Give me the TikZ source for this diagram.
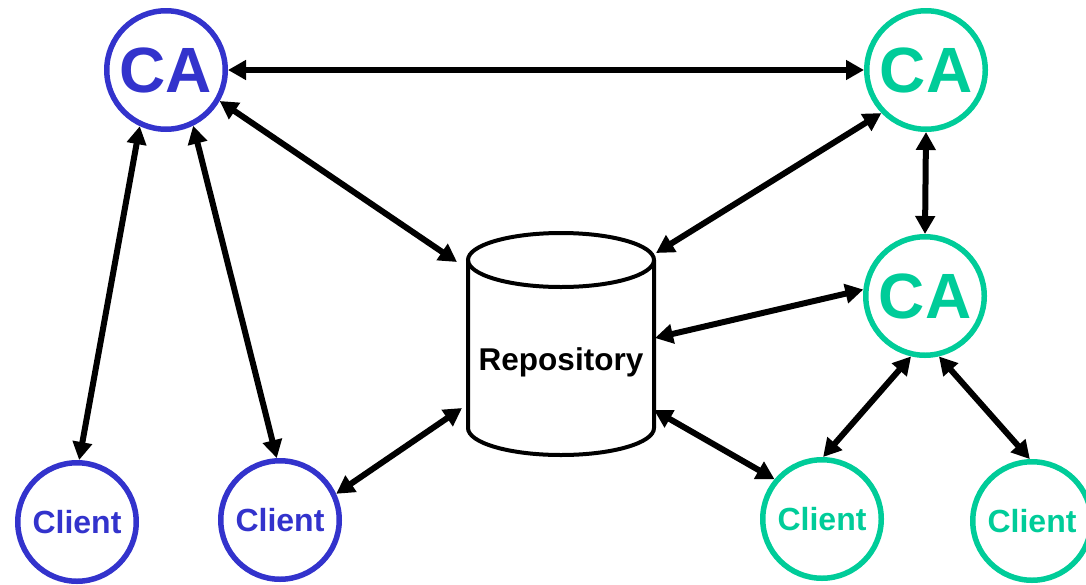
\documentclass[tikz,border=0pt]{standalone}
\usepackage{fontspec}
\setmainfont{Liberation Sans}
\usetikzlibrary{arrows.meta}
\definecolor{caBlue}{HTML}{3333CC}
\definecolor{caGreen}{HTML}{00CC99}

\begin{document}
\begin{tikzpicture}[x=1pt,y=-1pt,
  party/.style={circle, draw, line width=5.5pt, minimum size=118.5pt, inner sep=0pt},
  ca/.style={party, font=\fontsize{64}{64}\selectfont\bfseries},
  client/.style={party, font=\fontsize{32}{32}\selectfont\bfseries},
  blueside/.style={draw=caBlue, text=caBlue},
  greenside/.style={draw=caGreen, text=caGreen},
  link/.style={line width=6pt, {Triangle[length=18pt,width=19pt]}-{Triangle[length=18pt,width=19pt]}},
]
\useasboundingbox (0,0) rectangle (1086,584);

% certificate authorities
\node[ca, blueside]  (caL)  at (166,70)  {CA};
\node[ca, greenside] (caR)  at (926,70)  {CA};
\node[ca, greenside] (caM)  at (925,296) {CA};

% clients
\node[client, blueside]  (cl1) at (77,522)   {Client};
\node[client, blueside]  (cl2) at (280,520)  {Client};
\node[client, greenside] (cl3) at (822,519)  {Client};
\node[client, greenside] (cl4) at (1032,521) {Client};

% repository cylinder
\draw[line width=4pt, fill=white]
  (468,260) -- (468,428) arc[start angle=180, end angle=0, x radius=93, y radius=27]
  -- (654,260);
\draw[line width=4pt] (561,260) ellipse[x radius=93, y radius=27];
\node[font=\fontsize{31.5}{31.5}\selectfont\bfseries, anchor=base] (repo) at (561,370) {Repository};

% attachment points on the repository
\coordinate (rTL) at (457,262);
\coordinate (rBL) at (462,408);
\coordinate (rTR) at (656,253);
\coordinate (rMR) at (655,338);
\coordinate (rBR) at (654,410);

% connections
\draw[link] (caL.east) -- (caR.west);
\draw[link] (caL.-30) -- (rTL);
\draw[link] (caL.-115) -- (cl1.88);
\draw[link] (caL.-64) -- (cl2.93);
\draw[link] (rBL) -- (cl2.25);
\draw[link] (rTR) -- (caR.-136);
\draw[link] (caR.south) -- (caM.north);
\draw[link] (rMR) -- (caM.174);
\draw[link] (rBR) -- (cl3.140);
\draw[link] (caM.-103) -- (cl3.89);
\draw[link] (caM.-77) -- (cl4.92);
\end{tikzpicture}
\end{document}
